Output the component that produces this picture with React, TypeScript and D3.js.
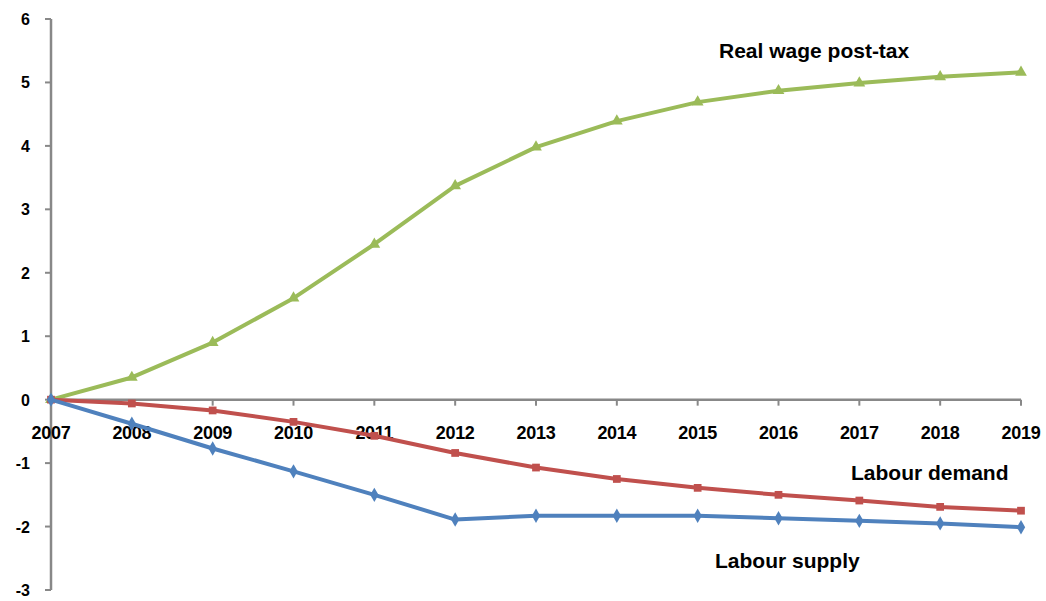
import { useEffect, useRef } from "react"
import * as d3 from "d3"

const years = [2007, 2008, 2009, 2010, 2011, 2012, 2013, 2014, 2015, 2016, 2017, 2018, 2019]
const realWage = [0, 0.35, 0.9, 1.6, 2.45, 3.37, 3.98, 4.39, 4.69, 4.87, 4.99, 5.09, 5.16]
const labourDemand = [0, -0.06, -0.17, -0.35, -0.57, -0.84, -1.07, -1.25, -1.39, -1.5, -1.59, -1.69, -1.75]
const labourSupply = [0, -0.38, -0.77, -1.13, -1.5, -1.89, -1.83, -1.83, -1.83, -1.87, -1.91, -1.95, -2.01]
const yTicks = [6, 5, 4, 3, 2, 1, 0, -1, -2, -3]

const series = [
  { name: "Real wage post-tax", values: realWage, color: "#9BBB59", symbol: d3.symbolTriangle },
  { name: "Labour demand", values: labourDemand, color: "#C0504D", symbol: d3.symbolSquare },
  { name: "Labour supply", values: labourSupply, color: "#4F81BD", symbol: d3.symbolDiamond },
]

export default function App() {
  const svgRef = useRef<SVGSVGElement>(null)

  useEffect(() => {
    if (!svgRef.current) return
    const svg = d3.select(svgRef.current)
    svg.selectAll("*").remove()

    const x = d3.scaleLinear().domain([2007, 2019]).range([51, 1021])
    const y = d3.scaleLinear().domain([-3, 6]).range([590, 19])
    const font = "'Liberation Sans', Arial, sans-serif"
    const axisColor = "#888888"

    // y axis
    svg.append("line")
      .attr("x1", x(2007)).attr("x2", x(2007))
      .attr("y1", y(6)).attr("y2", y(-3))
      .attr("stroke", axisColor).attr("stroke-width", 2.5)
    yTicks.forEach((t) => {
      svg.append("line")
        .attr("x1", x(2007) - 6).attr("x2", x(2007))
        .attr("y1", y(t)).attr("y2", y(t))
        .attr("stroke", axisColor).attr("stroke-width", 2)
      svg.append("text")
        .attr("x", 30).attr("y", y(t) + 6)
        .attr("text-anchor", "end")
        .style("font-family", font).style("font-size", "16px").style("font-weight", "bold")
        .text(t)
    })

    // x axis at zero
    svg.append("line")
      .attr("x1", x(2007)).attr("x2", x(2019))
      .attr("y1", y(0)).attr("y2", y(0))
      .attr("stroke", axisColor).attr("stroke-width", 2.5)
    years.forEach((yr) => {
      svg.append("line")
        .attr("x1", x(yr)).attr("x2", x(yr))
        .attr("y1", y(0)).attr("y2", y(0) + 6)
        .attr("stroke", axisColor).attr("stroke-width", 2)
      svg.append("text")
        .attr("x", x(yr)).attr("y", y(0) + 39)
        .attr("text-anchor", "middle")
        .style("font-family", font).style("font-size", "18px").style("font-weight", "bold")
        .style("letter-spacing", "-0.3px")
        .text(yr)
    })

    const line = d3.line<number>()
      .x((d, i) => x(years[i]))
      .y((d) => y(d))

    series.forEach((s) => {
      svg.append("path")
        .datum(s.values)
        .attr("d", line)
        .attr("fill", "none")
        .attr("stroke", s.color)
        .attr("stroke-width", 4)
        .attr("stroke-linejoin", "round")
      s.values.forEach((v, i) => {
        svg.append("path")
          .attr("d", d3.symbol().type(s.symbol).size(60)())
          .attr("transform", `translate(${x(years[i])},${y(v)})`)
          .attr("fill", s.color)
      })
    })

    // series labels
    const labels = [
      { text: "Real wage post-tax", x: 719, y: 58 },
      { text: "Labour demand", x: 851, y: 480 },
      { text: "Labour supply", x: 715, y: 568 },
    ]
    labels.forEach((l) => {
      svg.append("text")
        .attr("x", l.x).attr("y", l.y)
        .style("font-family", font).style("font-size", "21px").style("font-weight", "bold")
        .text(l.text)
    })
  }, [])

  return (
    <svg
      ref={svgRef}
      width={1046}
      height={601}
      style={{ position: "absolute", left: 0, top: 0, background: "#fff" }}
    />
  )
}
